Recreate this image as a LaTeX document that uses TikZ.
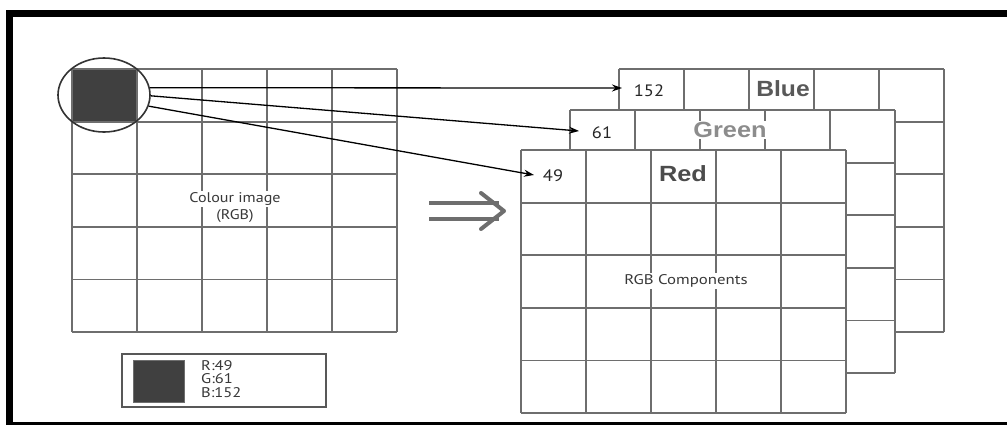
\documentclass[tikz,border=0pt]{standalone}
\usepackage{fontspec}
\setmainfont{PT Sans}
\newfontfamily\labfont{Liberation Sans}
\usetikzlibrary{shapes.geometric,arrows.meta}
\definecolor{gl}{HTML}{6E6E6E}
\definecolor{darkfill}{HTML}{404040}
\definecolor{txt}{HTML}{383838}
\newcommand\pixgrid[2]{%
  \fill[white] (#1,#2) rectangle ++(325,263);
  \foreach \i in {0,...,5} \draw[gline] ({#1+\i*65},#2) -- ++(0,263);
  \foreach \j in {0,...,5} \draw[gline] (#1,{#2+\j*52.6}) -- ++(325,0);
}
\begin{document}
\begin{tikzpicture}[x=1pt,y=-1pt,
  gline/.style={draw=gl, line width=1.8pt},
  smalltxt/.style={font=\fontsize{14}{16}\selectfont, text=txt, fill=white, inner sep=1.5pt},
  numtxt/.style={font=\fontsize{16.5}{18}\selectfont, text=black!85, inner sep=1pt},
  chantxt/.style={font=\labfont\bfseries\fontsize{22}{24}\selectfont, fill=white, inner sep=1pt},
  arr/.style={draw=black, line width=1.3pt, -{Stealth[length=10pt,width=7pt]}},
  frame/.style={draw=black, line width=7.3pt}]
\useasboundingbox (0,0) rectangle (1007,424);
\clip (0,0) rectangle (1007,424);
% frame
\draw[frame] (9.6,13.6) rectangle (1030,425.6);
% left colour image grid
\fill[white] (72,69) rectangle ++(325,263);
\fill[darkfill] (72,69) rectangle (137,122);
\foreach \i in {0,...,5} \draw[gline] ({72+\i*65},69) -- ++(0,263);
\foreach \j in {0,...,5} \draw[gline] (72,{69+\j*52.6}) -- ++(325,0);
\node[smalltxt] (cimg1) at (235,199) {\scalebox{1.15}[1]{Colour image}};
\node[smalltxt] (cimg2) at (235,216) {\scalebox{1.15}[1]{(RGB)}};
% legend
\node[draw=gl!80!black, line width=1.8pt, minimum width=204pt, minimum height=53pt, inner sep=0pt] (legend) at (224,380.5) {};
\node[fill=darkfill, draw=gl, line width=0.8pt, minimum width=51pt, minimum height=42pt, inner sep=0pt] (swatch) at (158.5,381) {};
\node[anchor=west, align=left, font=\fontsize{14}{13.4}\selectfont, text=txt, inner sep=0pt] (rgbvals) at (201,379)
  {\scalebox{1.18}[1]{R:49}\\\scalebox{1.18}[1]{G:61}\\\scalebox{1.18}[1]{B:152}};
% blue plane
\pixgrid{619}{69}
\node[chantxt, text=black!65] (blue) at (783,89) {\scalebox{1.12}[1]{Blue}};
\node[numtxt] (vb) at (649,91) {\scalebox{1.12}[1]{152}};
% green plane
\pixgrid{570}{110}
\node[chantxt, text=black!45] (green) at (730,130) {\scalebox{1.15}[1]{Green}};
\node[numtxt] (vg) at (602,133) {\scalebox{1.12}[1]{61}};
% red plane
\pixgrid{521}{150}
\node[chantxt, text=black!70, fill=none] (red) at (683,174) {\scalebox{1.15}[1]{Red}};
\node[numtxt] (vr) at (553,176) {\scalebox{1.12}[1]{49}};
\node[smalltxt] (rgbc) at (686,281) {\scalebox{1.2}[1]{RGB Components}};
% transform symbol
\draw[draw=gl, line width=4pt] (429,203) -- (499,203);
\draw[draw=gl, line width=4pt] (429,219) -- (499,219);
\draw[draw=gl, line width=4pt, line cap=round, line join=round] (481,193) -- (504,211) -- (481,229);
% magnifier ellipse
\node[ellipse, draw=black!80, line width=1.6pt, minimum width=92pt, minimum height=74pt, inner sep=0pt] (circ) at (104,95) {};
% arrow end points
\coordinate (tb) at (622,88);
\coordinate (tg) at (579,131);
\coordinate (tr) at (534,175);
\draw[arr] (circ.9) -- (tb);
\draw[arr] (circ.-1) -- (tg);
\draw[arr] (circ.-14) -- (tr);
\end{tikzpicture}
\end{document}
